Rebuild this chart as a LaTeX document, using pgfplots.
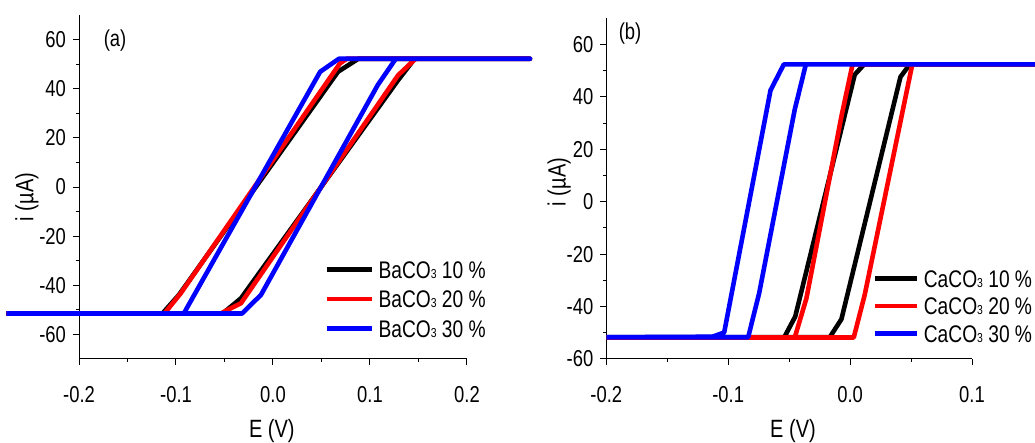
\documentclass[border=0pt]{standalone}
\usepackage{fontspec}
\setmainfont{Liberation Sans}[FakeStretch=0.8]
\usepackage{pgfplots}
\pgfplotsset{compat=1.18}
\newcommand{\sub}[1]{{\fontsize{6.5pt}{7pt}\selectfont #1}}
\pgfplotsset{
  myaxis/.style={
    scale only axis,
    anchor=south west,
    axis lines=left,
    axis line style={-, line width=0.5pt},
    tick align=outside,
    major tick length=3pt,
    minor tick length=1.5pt,
    every tick/.style={line width=0.5pt, black},
    minor x tick num=1, minor y tick num=1,
    ytick={-60,-40,...,60},
    xticklabel style={/pgf/number format/.cd, fixed, fixed zerofill, precision=1, /tikz/.cd, yshift=-7pt},
    /pgf/number format/assume math mode=true,
    tick label style={font=\fontsize{11.5pt}{13pt}\selectfont},
    label style={font=\fontsize{12.5pt}{14pt}\selectfont},
    clip=false,
    every axis plot/.append style={line width=2.3pt, line join=round},
    legend style={draw=none, fill=none, inner sep=0pt, anchor=west,
      font=\fontsize{12pt}{14pt}\selectfont, column sep=2.35pt,
      nodes={inner sep=0pt, text height=8.6pt, text depth=0pt}},
    legend cell align=left,
  }
}
\begin{document}
\begin{tikzpicture}
\path[use as bounding box] (0,0) rectangle (517.5pt,221.5pt);
\clip (0,0) rectangle (517.5pt,221.5pt);
% ---------------- panel (a)
\begin{axis}[myaxis,
  at={(39.5pt,42pt)}, width=194pt, height=172pt,
  xmin=-0.2, xmax=0.2, ymin=-70, ymax=70,
  xtick={-0.2,-0.1,0,0.1,0.2},
  xlabel={E (V)}, ylabel={i (µA)},
  xlabel style={at={(rel axis cs:0.497,-0.21)}, anchor=center},
  ylabel style={at={(rel axis cs:-0.134,0.471)}, anchor=center, rotate=0},
  legend style={at={(0.631,0.1744)}, row sep=6.15pt},
  legend image code/.code={\draw[#1] (0pt,0pt) -- (22.5pt,0pt);},
]
\addplot[black] coordinates {(-0.275,-51.5) (-0.052,-51.5) (-0.033,-45.3) (0.129,43.5) (0.146,52.2) (0.265,52.2)
  (0.088,52.2) (0.067,46.9) (-0.097,-43.9) (-0.114,-51.5) (-0.275,-51.5)};
\addlegendentry{BaCO\sub{3} 10 \%}
\addplot[red] coordinates {(-0.275,-51.5) (-0.054,-51.5) (-0.033,-47.3) (0.129,45.5) (0.147,52.2) (0.265,52.2)
  (0.076,52.2) (0.069,50.3) (-0.095,-43.2) (-0.112,-51.5) (-0.275,-51.5)};
\addlegendentry{BaCO\sub{3} 20 \%}
\addplot[blue] coordinates {(-0.275,-51.5) (-0.032,-51.5) (-0.0124,-43.9) (0.108,41.5) (0.1266,52.2) (0.265,52.2)
  (0.068,52.2) (0.0486,46.9) (-0.092,-51.5) (-0.275,-51.5)};
\addlegendentry{BaCO\sub{3} 30 \%}
\node[font=\fontsize{11.5pt}{13pt}\selectfont] at (rel axis cs:0.0928,0.927) {(a)};
\end{axis}
% ---------------- panel (b)
\begin{axis}[myaxis,
  at={(303.15pt,42pt)}, width=182.85pt, height=170.35pt,
  xmin=-0.2, xmax=0.1, ymin=-60, ymax=70,
  xtick={-0.2,-0.1,0,0.1},
  xlabel={E (V)}, ylabel={i (µA)},
  xlabel style={at={(rel axis cs:0.5105,-0.212)}, anchor=center},
  ylabel style={at={(rel axis cs:-0.129,0.5195)}, anchor=center, rotate=0},
  legend style={at={(0.727,0.1556)}, row sep=5.15pt},
  legend image code/.code={\draw[#1] (0pt,0pt) -- (21pt,0pt);},
]
\addplot[black] coordinates {(-0.2,-51.7) (-0.0167,-51.7) (-0.0071,-44.8) (0.0413,47.6) (0.0489,52.4) (0.16,52.4)
  (0.0115,52.4) (0.0038,48.5) (-0.045,-43.8) (-0.054,-51.7) (-0.2,-51.7)};
\addlegendentry{CaCO\sub{3} 10 \%}
\addplot[red] coordinates {(-0.2,-51.8) (0.003,-51.8) (0.012,-35.5) (0.051,52.4) (0.16,52.4)
  (0.002,52.4) (-0.0071,32.6) (-0.0358,-36.8) (-0.0454,-51.8) (-0.2,-51.8)};
\addlegendentry{CaCO\sub{3} 20 \%}
\addplot[blue] coordinates {(-0.2,-51.7) (-0.0836,-51.7) (-0.0746,-34.9) (-0.0454,35.2) (-0.0363,52.4) (0.16,52.4)
  (-0.0544,52.4) (-0.0653,42.5) (-0.1033,-49.9) (-0.113,-51.5) (-0.2,-51.7)};
\addlegendentry{CaCO\sub{3} 30 \%}
\node[font=\fontsize{11.5pt}{13pt}\selectfont] at (rel axis cs:0.0648,0.954) {(b)};
\end{axis}
\end{tikzpicture}
\end{document}
